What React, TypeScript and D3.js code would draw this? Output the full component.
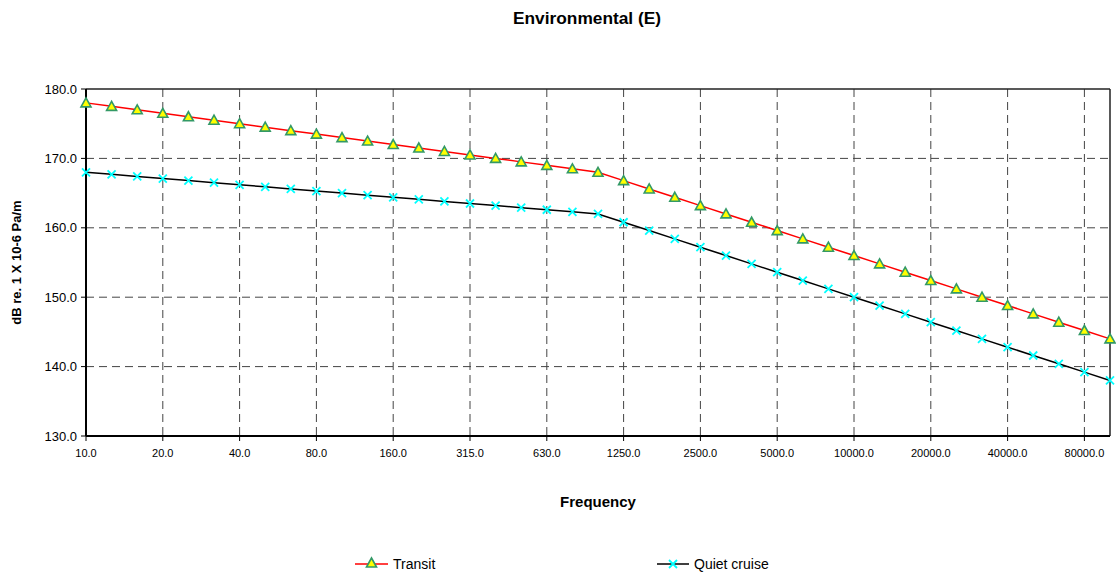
import React from "react";
import * as d3 from "d3";

// 1/3 octave band centre frequencies (Hz)
const freqs = [
  10, 12.5, 16, 20, 25, 31.5, 40, 50, 63, 80, 100, 125, 160, 200, 250, 315, 400,
  500, 630, 800, 1000, 1250, 1600, 2000, 2500, 3150, 4000, 5000, 6300, 8000,
  10000, 12500, 16000, 20000, 25000, 31500, 40000, 50000, 63000, 80000, 100000,
];

const transit = [
  178, 177.5, 177, 176.5, 176, 175.5, 175, 174.5, 174, 173.5, 173, 172.5, 172,
  171.5, 171, 170.5, 170, 169.5, 169, 168.5, 168, 166.8, 165.6, 164.4, 163.2,
  162, 160.8, 159.6, 158.4, 157.2, 156, 154.8, 153.6, 152.4, 151.2, 150, 148.8,
  147.6, 146.4, 145.2, 144,
];

const quietCruise = [
  168, 167.7, 167.4, 167.1, 166.8, 166.5, 166.2, 165.9, 165.6, 165.3, 165,
  164.7, 164.4, 164.1, 163.8, 163.5, 163.2, 162.9, 162.6, 162.3, 162, 160.8,
  159.6, 158.4, 157.2, 156, 154.8, 153.6, 152.4, 151.2, 150, 148.8, 147.6,
  146.4, 145.2, 144, 142.8, 141.6, 140.4, 139.2, 138,
];

const yTicks = [130, 140, 150, 160, 170, 180];

const W = 1116;
const H = 575;
const plot = { left: 86, right: 1110, top: 89, bottom: 436 };
const font = "Arial, 'Liberation Sans', sans-serif";

const Triangle = ({ x, y }: { x: number; y: number }) => (
  <path
    d={`M${x},${y - 5}L${x + 5},${y + 4}L${x - 5},${y + 4}Z`}
    fill="#ffff00"
    stroke="#339966"
    strokeWidth={1.6}
  />
);

const Cross = ({ x, y }: { x: number; y: number }) => (
  <path
    d={`M${x - 4},${y - 4}L${x + 4},${y + 4}M${x - 4},${y + 4}L${x + 4},${y - 4}`}
    stroke="#00ffff"
    strokeWidth={1.8}
    fill="none"
  />
);

export default function App() {
  const idx = freqs.map((_, i) => i);
  const x = d3.scalePoint<number>().domain(idx).range([plot.left, plot.right]).padding(0);
  const y = d3.scaleLinear().domain([130, 180]).range([plot.bottom, plot.top]);

  const line = d3
    .line<number>()
    .x((_, i) => x(i) as number)
    .y((d) => y(d));

  const labelled = idx.filter((i) => i % 3 === 0);

  return (
    <svg
      width={W}
      height={H}
      style={{ position: "absolute", left: 0, top: 0, background: "#fff" }}
      fontFamily={font}
    >
      <text
        x={587}
        y={24}
        textAnchor="middle"
        fontSize={17}
        fontWeight="bold"
        textLength={148}
        lengthAdjust="spacingAndGlyphs"
      >
        Environmental (E)
      </text>

      {/* horizontal grid */}
      {yTicks
        .filter((t) => t > 130 && t < 180)
        .map((t) => (
          <line
            key={"hg" + t}
            x1={plot.left}
            x2={plot.right}
            y1={y(t)}
            y2={y(t)}
            stroke="#444"
            strokeDasharray="8,5"
            strokeWidth={1}
          />
        ))}

      {/* vertical grid */}
      {labelled
        .filter((i) => i > 0)
        .map((i) => (
          <line
            key={"vg" + i}
            x1={x(i)}
            x2={x(i)}
            y1={plot.top}
            y2={plot.bottom}
            stroke="#444"
            strokeDasharray="8,5"
            strokeWidth={1}
          />
        ))}

      {/* plot border */}
      <line x1={plot.left} x2={plot.right} y1={plot.top} y2={plot.top} stroke="#222" strokeWidth={1.5} />
      <line x1={plot.right} x2={plot.right} y1={plot.top} y2={plot.bottom} stroke="#222" strokeWidth={1.5} />
      <line x1={plot.left} x2={plot.left} y1={plot.top} y2={plot.bottom} stroke="#000" strokeWidth={2} />
      <line x1={plot.left} x2={plot.right} y1={plot.bottom} y2={plot.bottom} stroke="#000" strokeWidth={2} />

      {/* y axis ticks and labels */}
      {yTicks.map((t) => (
        <g key={"yt" + t}>
          <line x1={plot.left - 5} x2={plot.left} y1={y(t)} y2={y(t)} stroke="#000" />
          <text x={plot.left - 9} y={y(t) + 4.5} textAnchor="end" fontSize={13}>
            {t.toFixed(1)}
          </text>
        </g>
      ))}

      {/* x axis ticks and labels */}
      {labelled.map((i) => (
        <g key={"xt" + i}>
          <line x1={x(i)} x2={x(i)} y1={plot.bottom} y2={plot.bottom + 5} stroke="#000" />
          <text x={x(i)} y={plot.bottom + 21} textAnchor="middle" fontSize={11}>
            {freqs[i].toFixed(1)}
          </text>
        </g>
      ))}

      <text
        x={18}
        y={(plot.top + plot.bottom) / 2}
        transform={`rotate(-90, 18, ${(plot.top + plot.bottom) / 2})`}
        textAnchor="middle"
        dominantBaseline="middle"
        fontSize={13}
        fontWeight="bold"
      >
        dB re. 1 X 10-6 Pa/m
      </text>

      <text x={(plot.left + plot.right) / 2} y={507} textAnchor="middle" fontSize={15} fontWeight="bold">
        Frequency
      </text>

      {/* series */}
      <path d={line(quietCruise) ?? ""} fill="none" stroke="#000" strokeWidth={1.5} />
      <path d={line(transit) ?? ""} fill="none" stroke="#ff0000" strokeWidth={1.5} />
      {quietCruise.map((d, i) => (
        <Cross key={"q" + i} x={x(i) as number} y={y(d)} />
      ))}
      {transit.map((d, i) => (
        <Triangle key={"t" + i} x={x(i) as number} y={y(d)} />
      ))}

      {/* legend */}
      <g>
        <line x1={355} x2={388} y1={564} y2={564} stroke="#ff0000" strokeWidth={1.5} />
        <Triangle x={371.5} y={563} />
        <text x={393} y={569} fontSize={14}>
          Transit
        </text>
        <line x1={657} x2={689} y1={564} y2={564} stroke="#000" strokeWidth={1.5} />
        <Cross x={673} y={564} />
        <text x={694} y={569} fontSize={14}>
          Quiet cruise
        </text>
      </g>
    </svg>
  );
}
